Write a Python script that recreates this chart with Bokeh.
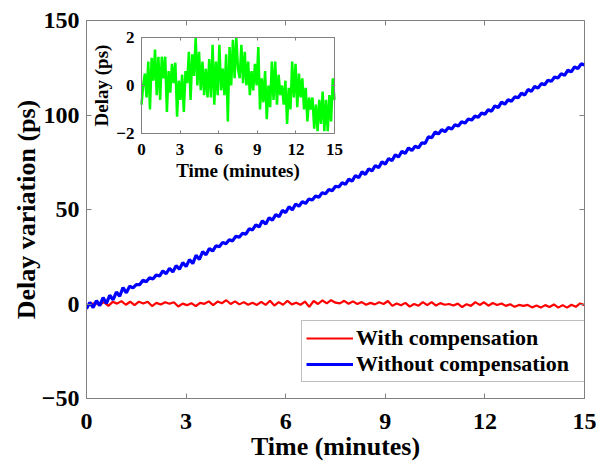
import numpy as np
from bokeh.plotting import figure
from bokeh.models import Range1d, LinearAxis, FixedTicker, Legend, LegendItem
from bokeh.embed import file_html
from bokeh.resources import INLINE

# ---------------- data ----------------
x_ticks = [0, 3, 6, 9, 12, 15]
y_ticks = [-50, 0, 50, 100, 150]
inset_y_ticks = [-2, 0, 2]

# delay variation without compensation (ps), sampled every 0.1 min over 0..15 min
blue = [-2.5, 0.8, -1.9, 1.8, -0.8, 3.4, 0.3, 4.6, 2.2, 6.3,
        4.1, 8.7, 5.9, 9.4, 8.5, 10.3, 10.2, 12.6, 11.8, 13.9,
        13.2, 15.4, 14.8, 17.5, 16.0, 18.9, 16.9, 20.3, 18.4, 21.9,
        19.8, 23.5, 21.4, 25.8, 23.6, 27.7, 26.0, 29.4, 28.0, 30.8,
        30.3, 32.6, 31.9, 34.0, 33.4, 35.9, 35.3, 37.4, 37.0, 39.8,
        39.2, 41.9, 40.8, 44.0, 42.3, 45.6, 44.4, 47.3, 46.2, 49.5,
        48.4, 51.5, 49.8, 52.9, 51.7, 54.2, 53.2, 55.6, 55.0, 57.2,
        56.5, 58.9, 58.3, 60.6, 59.9, 62.3, 61.9, 64.2, 63.3, 66.1,
        65.0, 68.0, 66.8, 69.9, 68.6, 71.5, 70.4, 73.3, 72.1, 75.2,
        74.0, 77.0, 75.8, 78.9, 77.8, 80.8, 79.7, 82.6, 81.2, 83.5,
        82.6, 85.3, 85.0, 88.5, 88.0, 91.0, 90.0, 92.2, 91.2, 93.4,
        92.5, 94.9, 94.2, 96.4, 95.7, 97.9, 97.3, 99.4, 98.8, 101.1,
        100.4, 102.8, 102.0, 104.8, 103.9, 106.8, 105.7, 108.1, 107.3, 109.6,
        109.1, 111.5, 110.6, 113.5, 112.5, 115.1, 114.2, 116.6, 116.0, 118.4,
        117.8, 120.1, 119.6, 121.9, 121.0, 123.7, 122.8, 125.5, 124.5, 127.1,
        126.4]

# delay variation with compensation (ps), sampled uniformly over 0..15 min
green = [-0.8, 0.0, 0.5, -0.5, 1.0, -1.0, 1.15, 0.2, 1.5, -0.4, 1.2, -0.6, 1.2, 0.3, 1.2,
         -1.1, 0.6, -0.3, 0.9, 0.1, 0.95, -1.3, 0.2, -0.6, 0.45, -1.1, 0.6, 0.1, 1.4, -0.6,
         1.3, 0.4, 2.0, 0.0, 1.4, -0.2, 1.0, -0.4, 0.7, -0.5, 1.1, -0.5, 1.7, -0.8, 1.0,
         -0.4, 1.7, -0.2, 0.7, -0.4, 1.3, -1.5, 1.6, 0.0, 1.9, 0.3, 2.0,
         0.7, 0.3, 1.7, 0.1, 1.4, 0.0, 1.0, -0.4, 0.6, -0.2, 0.9, 0.0, 1.6, -1.0, 0.3,
         -0.7, 0.6, -1.4, 0.0, -0.9, 1.0, -0.6, 1.0, -0.8, 0.45, -0.4, 0.0, -0.8, 0.2,
         -1.6, -0.1, -1.0, 1.0, -0.5, 0.9, -0.9, 0.5, -0.5, 0.3, -1.0, -0.1, -1.5, -0.5,
         -1.0, -0.5, -1.8, -0.8, -1.9, -0.6, -1.6, -0.25, -1.9, -0.6, -1.9, -0.4, -1.5,
         0.3, -0.6]
red = green

t_blue = np.linspace(0, 15, len(blue))
t_green = np.linspace(0, 15, len(green))

# ---------------- layout ----------------
W, H = 610, 464
FL, FR, FT, FB = 86, 584, 20, 398          # main frame (px)
IL, IR, IT, IB = 141, 334, 37, 133         # inset frame (px)
FONT = "Liberation Serif"
GRAY = "#808080"

p = figure(width=W, height=H, output_backend="svg", toolbar_location=None,
           x_range=Range1d(0, 15), y_range=Range1d(-50, 150),
           min_border_left=FL, min_border_right=W - FR,
           min_border_top=FT, min_border_bottom=H - FB,
           background_fill_color="white", border_fill_color="white")
p.xgrid.visible = False
p.ygrid.visible = False
p.outline_line_color = GRAY
p.outline_line_width = 1

# inset ranges mapped onto the whole main frame
sx = (IR - IL) / 15.0
sy = (IB - IT) / 4.0
p.extra_x_ranges = {"ix": Range1d(0 - (IL - FL) / sx, 15 + (FR - IR) / sx)}
p.extra_y_ranges = {"iy": Range1d(-2 - (FB - IB) / sy, 2 + (IT - FT) / sy)}


def style_axis(ax, tick_size, label_size, standoff, label_standoff, tick_len=5):
    ax.major_label_text_font = FONT
    ax.major_label_text_font_style = "bold"
    ax.major_label_text_font_size = f"{tick_size}px"
    ax.major_label_text_color = "black"
    ax.axis_label_text_font = FONT
    ax.axis_label_text_font_style = "bold"
    ax.axis_label_text_font_size = f"{label_size}px"
    ax.axis_label_text_color = "black"
    ax.major_label_standoff = standoff
    ax.axis_label_standoff = label_standoff
    ax.major_tick_in = tick_len
    ax.major_tick_out = 0
    ax.minor_tick_in = 0
    ax.minor_tick_out = 0
    ax.minor_tick_line_color = None
    ax.axis_line_color = GRAY
    ax.major_tick_line_color = GRAY


# main axes
xa = p.xaxis[0]
xa.ticker = FixedTicker(ticks=x_ticks)
xa.axis_label = "Time (minutes)"
style_axis(xa, 24, 26, 15, 0)
ya = p.yaxis[0]
ya.ticker = FixedTicker(ticks=y_ticks)
ya.axis_label = "Delay variation (ps)"
style_axis(ya, 24, 26, 7, -2)

# mirrored ticks (top / right)
top = LinearAxis(fixed_location=150, ticker=FixedTicker(ticks=x_ticks))
style_axis(top, 0, 0, 0, 0)
top.major_label_text_alpha = 0
p.add_layout(top, "above")
right = LinearAxis(fixed_location=15, ticker=FixedTicker(ticks=y_ticks))
style_axis(right, 0, 0, 0, 0)
right.major_label_text_alpha = 0
p.add_layout(right, "right")

# main lines
r_red = p.line(t_green, red, line_color="#ff0000", line_width=2.2)
r_blue = p.line(t_blue, blue, line_color="#0000ff", line_width=3.2)

legend = Legend(items=[LegendItem(label="With compensation", renderers=[r_red]),
                       LegendItem(label="Without compensation", renderers=[r_blue])],
                location=(215, 16), orientation="vertical",
                label_text_font=FONT, label_text_font_style="bold",
                label_text_font_size="22px", label_text_color="black",
                label_text_baseline="middle",
                glyph_width=47, glyph_height=24, label_height=24, label_width=224,
                label_standoff=3, padding=4, spacing=0, margin=0,
                border_line_color=GRAY, border_line_width=1,
                background_fill_color="white", background_fill_alpha=1.0)
p.add_layout(legend)

# inset
p.quad(left=0, right=15, bottom=-2, top=2, x_range_name="ix", y_range_name="iy",
       fill_color="white", line_color=GRAY, line_width=1)
p.line(t_green, green, x_range_name="ix", y_range_name="iy",
       line_color="#00ff00", line_width=2.5)

ix_ax = LinearAxis(x_range_name="ix", y_range_name="iy", fixed_location=-2, bounds=(0, 15),
                   ticker=FixedTicker(ticks=x_ticks), axis_label="Time (minutes)")
style_axis(ix_ax, 17, 19, 10, 2, tick_len=3)
p.add_layout(ix_ax, "below")
iy_ax = LinearAxis(x_range_name="ix", y_range_name="iy", fixed_location=0, bounds=(-2, 2),
                   ticker=FixedTicker(ticks=inset_y_ticks), axis_label="Delay (ps)")
style_axis(iy_ax, 17, 19, 7, 1, tick_len=3)
p.add_layout(iy_ax, "left")
it_ax = LinearAxis(x_range_name="ix", y_range_name="iy", fixed_location=2, bounds=(0, 15),
                   ticker=FixedTicker(ticks=x_ticks))
style_axis(it_ax, 0, 0, 0, 0, tick_len=3)
it_ax.major_label_text_alpha = 0
p.add_layout(it_ax, "above")
ir_ax = LinearAxis(x_range_name="ix", y_range_name="iy", fixed_location=15, bounds=(-2, 2),
                   ticker=FixedTicker(ticks=inset_y_ticks))
style_axis(ir_ax, 0, 0, 0, 0, tick_len=3)
ir_ax.major_label_text_alpha = 0
p.add_layout(ir_ax, "right")

open("out.html", "w").write(file_html(p, INLINE))
